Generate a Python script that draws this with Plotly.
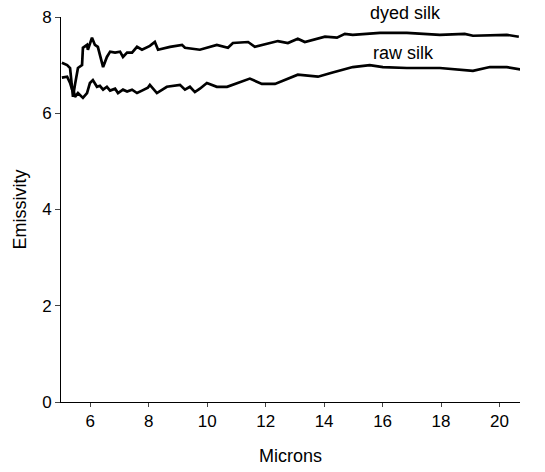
import plotly.graph_objects as go

# values
dyed_x = [5.03, 5.21, 5.31, 5.38, 5.41, 5.48, 5.58, 5.72, 5.75, 5.89, 5.92, 6.06, 6.16, 6.26,
          6.40, 6.44, 6.57, 6.68, 6.85, 7.02, 7.12, 7.26, 7.43, 7.60, 7.77, 7.97, 8.04, 8.21,
          8.32, 8.73, 9.14, 9.24, 9.75, 10.33, 10.71, 10.88, 11.40, 11.63, 12.42, 12.76, 13.10,
          13.34, 14.03, 14.44, 14.71, 14.98, 15.56, 15.91, 16.83, 17.96, 18.81, 19.09, 20.25, 20.66]
dyed_y = [7.05, 7.00, 6.94, 6.45, 6.34, 6.60, 6.94, 7.00, 7.36, 7.42, 7.32, 7.57, 7.42, 7.38,
          7.07, 6.96, 7.17, 7.28, 7.26, 7.28, 7.17, 7.26, 7.26, 7.38, 7.32, 7.38, 7.40, 7.48,
          7.32, 7.38, 7.42, 7.36, 7.32, 7.42, 7.36, 7.46, 7.48, 7.38, 7.50, 7.46, 7.55,
          7.48, 7.59, 7.57, 7.65, 7.63, 7.65, 7.67, 7.67, 7.63, 7.65, 7.61, 7.63, 7.59]

raw_x = [5.03, 5.21, 5.31, 5.38, 5.41, 5.48, 5.58, 5.75, 5.89, 5.99, 6.09, 6.23, 6.33, 6.44,
         6.57, 6.68, 6.85, 6.95, 7.12, 7.26, 7.43, 7.60, 7.77, 7.97, 8.04, 8.28, 8.62, 9.07,
         9.24, 9.41, 9.58, 9.75, 9.99, 10.33, 10.68, 11.02, 11.29, 11.46, 11.87, 12.32, 13.10,
         13.79, 14.26, 14.71, 14.98, 15.56, 16.01, 16.83, 17.96, 19.09, 19.67, 20.25, 20.79]
raw_y = [6.74, 6.76, 6.63, 6.49, 6.52, 6.34, 6.42, 6.32, 6.42, 6.63, 6.69, 6.55, 6.57, 6.49,
         6.55, 6.47, 6.51, 6.42, 6.49, 6.45, 6.49, 6.42, 6.47, 6.53, 6.59, 6.42, 6.55, 6.59,
         6.49, 6.55, 6.44, 6.51, 6.63, 6.55, 6.55, 6.63, 6.69, 6.72, 6.61, 6.61, 6.80,
         6.76, 6.84, 6.92, 6.96, 7.00, 6.96, 6.94, 6.94, 6.88, 6.96, 6.96, 6.90]

x_ticks = [6, 8, 10, 12, 14, 16, 18, 20]
y_ticks = [0, 2, 4, 6, 8]

family = "Liberation Sans, Arial, sans-serif"

fig = go.Figure()
fig.add_trace(go.Scatter(x=dyed_x, y=dyed_y, name="dyed silk", mode="lines",
                         line=dict(color="black", width=2.7), showlegend=False))
fig.add_trace(go.Scatter(x=raw_x, y=raw_y, name="raw silk", mode="lines",
                         line=dict(color="black", width=2.7), showlegend=False))

fig.add_annotation(x=16.8, y=8, yshift=4, text="dyed silk", showarrow=False,
                   font=dict(family=family, size=18, color="black"))
fig.add_annotation(x=16.7, y=7.25, text="raw silk", showarrow=False,
                   font=dict(family=family, size=18, color="black"))

fig.update_layout(
    width=545, height=472,
    margin=dict(l=61, r=25, t=17, b=70),
    paper_bgcolor="white", plot_bgcolor="white",
    font=dict(family=family, size=17, color="black"),
    xaxis=dict(range=[5, 20.7], tickvals=x_ticks, ticks="outside", ticklen=4,
               showgrid=False, zeroline=False, showline=True, linecolor="black", linewidth=1,
               automargin=False,
               title=dict(text="Microns", font=dict(size=18), standoff=18)),
    yaxis=dict(range=[0, 8], tickvals=y_ticks, ticks="outside", ticklen=5,
               showgrid=False, zeroline=False, showline=True, linecolor="black", linewidth=1,
               automargin=False,
               title=dict(text="Emissivity", font=dict(size=18), standoff=10)),
)

# drop the default 8px body margin so the figure sits at the page corner
fig.write_html("out.html", config={"displayModeBar": False},
               post_script="document.body.style.margin = '0';")
